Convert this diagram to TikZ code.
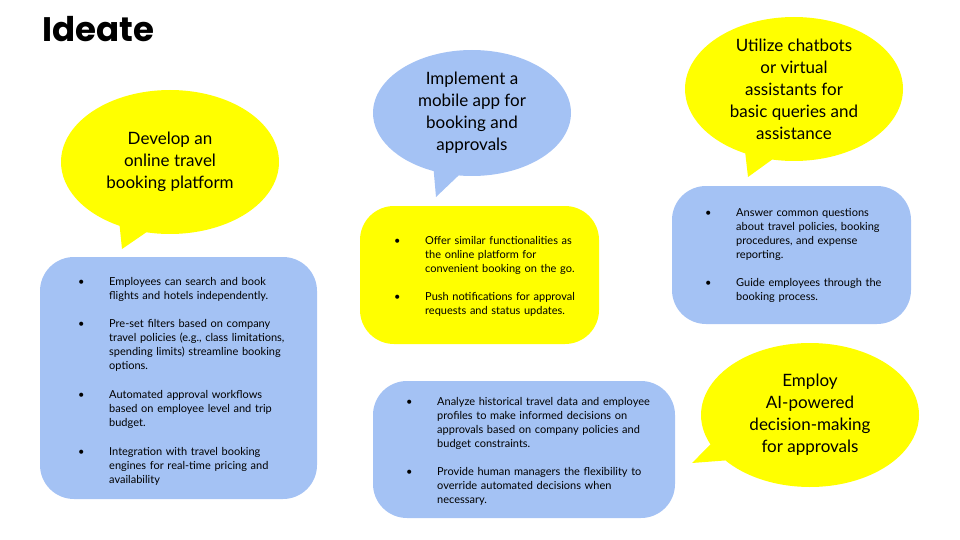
\documentclass[tikz,border=0pt]{standalone}
\usepackage{fontspec}
\setmainfont{Lato}
\newfontfamily\titlefont{Poppins}
\usetikzlibrary{shapes.geometric, shapes.callouts, positioning}
\definecolor{slideyellow}{HTML}{FFFF00}
\definecolor{slideblue}{HTML}{A4C2F4}
\newcommand{\bul}[1]{\noindent\makebox[31pt][l]{\textbullet}\parbox[t]{228pt}{#1}\par\vspace{17.5pt}}

\begin{document}
\begin{tikzpicture}[
        x=1pt, y=-1pt,
        bubble/.style={ellipse callout, minimum width=218pt, minimum height=144pt, inner sep=0pt,
            align=center, font=\fontsize{17}{22}\selectfont},
        ideabox/.style={rectangle, rounded corners=34pt, inner sep=0pt},
        bullets/.style={anchor=north west, inner sep=0pt, align=left, text width=260pt,
            font=\fontsize{11}{14}\selectfont}
    ]
    \useasboundingbox (0,0) rectangle (960,540);
    \node[anchor=base west, inner sep=0pt, font=\fontsize{34}{40}\selectfont] (title) at (42,42) {\titlefont\bfseries Ideate};

    \node[bubble, fill=slideyellow, callout absolute pointer={(122,249)}] (webidea) at (170,162)
        {Develop an\\online travel\\booking platform};
    \node[bubble, fill=slideblue, minimum width=198pt, minimum height=126pt, callout absolute pointer={(436,197)}] (appidea) at (472,113)
        {Implement a\\mobile app for\\booking and\\approvals};
    \node[bubble, fill=slideyellow, callout absolute pointer={(748,177)}] (botidea) at (794,89)
        {Utilize chatbots\\or virtual\\assistants for\\basic queries and\\assistance};
    \node[bubble, fill=slideyellow, callout absolute pointer={(692,463)}] (aiidea) at (810,415)
        {Employ\\AI-powered\\decision-making\\for approvals};

    \node[ideabox, fill=slideblue, minimum width=277pt, minimum height=242pt] (webbox) at (178.5,378) {};
    \node[ideabox, fill=slideyellow, minimum width=239pt, minimum height=138pt] (appbox) at (479.5,275) {};
    \node[ideabox, fill=slideblue, minimum width=239pt, minimum height=138pt] (botbox) at (791.5,255) {};
    \node[ideabox, fill=slideblue, minimum width=302pt, minimum height=137pt] (aibox) at (524,449.5) {};

    \node[bullets] (webtext) at (78,277) {%
        \bul{Employees can search and book\\flights and hotels independently.}
        \bul{Pre-set filters based on company\\travel policies (e.g., class limitations,\\spending limits) streamline booking\\options.}
        \bul{Automated approval workflows\\based on employee level and trip\\budget.}
        \bul{Integration with travel booking\\engines for real-time pricing and\\availability}};
    \node[bullets] (apptext) at (394,236) {%
        \bul{Offer similar functionalities as\\the online platform for\\convenient booking on the go.}
        \bul{Push notifications for approval\\requests and status updates.}};
    \node[bullets] (bottext) at (705,208) {%
        \bul{Answer common questions\\about travel policies, booking\\procedures, and expense\\reporting.}
        \bul{Guide employees through the\\booking process.}};
    \node[bullets] (aitext) at (406,397) {%
        \bul{Analyze historical travel data and employee\\profiles to make informed decisions on\\approvals based on company policies and\\budget constraints.}
        \bul{Provide human managers the flexibility to\\override automated decisions when\\necessary.}};
\end{tikzpicture}
\end{document}
